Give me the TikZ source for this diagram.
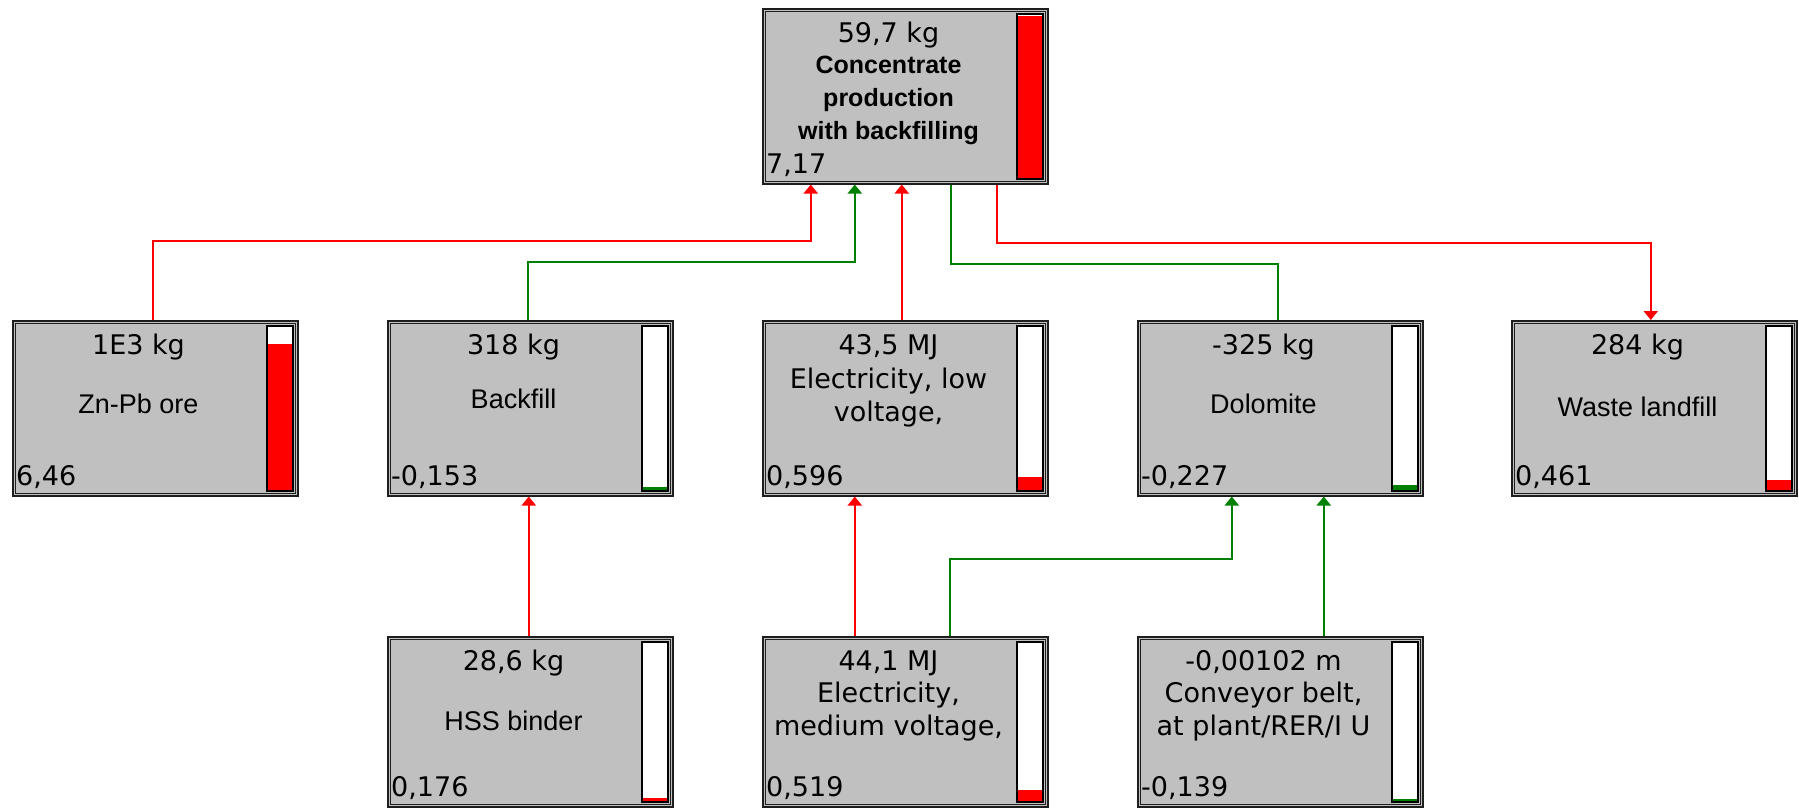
\documentclass[tikz,border=0pt]{standalone}
\usepackage{fontspec}
\setmainfont{DejaVu Sans}
\newfontfamily\libsans{Liberation Sans}
\usetikzlibrary{arrows.meta}
\definecolor{boxgray}{HTML}{C0C0C0}
\definecolor{framec}{HTML}{1E1E1E}
\definecolor{redc}{HTML}{FF0000}
\definecolor{greenc}{HTML}{008000}
\tikzset{
  pbox/.style={rectangle, draw=framec, line width=1.5pt, fill=boxgray, minimum width=285pt, inner sep=0pt},
  innerframe/.style={draw=framec, line width=1pt},
  barframe/.style={draw=black, line width=2pt},
  val/.style={inner sep=0pt, font=\fontsize{27}{33}\selectfont, text=black},
  nm/.style={inner sep=0pt, font=\libsans\fontsize{27}{33}\selectfont, text=black, anchor=base},
  nmb/.style={inner sep=0pt, font=\libsans\bfseries\fontsize{25}{33}\selectfont, text=black, anchor=base},
  redl/.style={draw=redc, line width=2pt},
  greenl/.style={draw=greenc, line width=2pt},
  arr/.style={-{Triangle[width=14pt,length=9pt]}}
}
\newcommand\procbox[8]{%
  \node[pbox, minimum height=#4pt, anchor=north west] (#1) at (#2,#3) {};
  \draw[innerframe] ([shift={(3,3)}]#1.north west) rectangle ([shift={(-3,-3)}]#1.south east);
  \draw[fill=white, draw=none] ([shift={(-32,6)}]#1.north east) rectangle ([shift={(-6,-6)}]#1.south east);
  \fill[#6] ([shift={(-32,-6)}]#1.south east) rectangle ([shift={(-6,{-6-(#4-12)*#5})}]#1.south east);
  \draw[barframe] ([shift={(-32,6)}]#1.north east) rectangle ([shift={(-6,-6)}]#1.south east);
  \node[val, anchor=base] (#1v) at ([shift={(126.5,34)}]#1.north west) {#7};
  \node[val, anchor=base west] (#1b) at ([shift={(4,-11)}]#1.south west) {#8};
}
\begin{document}
\begin{tikzpicture}[x=1pt, y=-1pt]
\useasboundingbox (0,0) rectangle (1799,807);
% boxes
\procbox{top}{762}{8}{175}{1.0}{redc}{59,7 kg}{7,17}
\procbox{zn}{12}{320}{175}{0.901}{redc}{1E3 kg}{6,46}
\procbox{bf}{387}{320}{175}{0.021}{greenc}{318 kg}{-0,153}
\procbox{ell}{762}{320}{175}{0.083}{redc}{43,5 MJ}{0,596}
\procbox{dol}{1137}{320}{175}{0.032}{greenc}{-325 kg}{-0,227}
\procbox{waste}{1511}{320}{175}{0.064}{redc}{284 kg}{0,461}
\procbox{hss}{387}{636}{170}{0.025}{redc}{28,6 kg}{0,176}
\procbox{elm}{762}{636}{170}{0.072}{redc}{44,1 MJ}{0,519}
\procbox{conv}{1137}{636}{170}{0.019}{greenc}{-0,00102 m}{-0,139}
% names
\node[nmb] (topn1) at (888.5,73) {Concentrate};
\node[nmb] (topn2) at (888.5,106) {production};
\node[nmb] (topn3) at (888.5,139) {with backfilling};
\node[nm] (znn) at (138.5,413) {Zn-Pb ore};
\node[nm] (bfn) at (513.5,408) {Backfill};
\node[val, anchor=base] (elln1) at (888.5,388) {Electricity, low};
\node[val, anchor=base] (elln2) at (888.5,421) {voltage,};
\node[nm] (doln) at (1263.5,413) {Dolomite};
\node[nm] (wasten) at (1637.5,416) {Waste landfill};
\node[nm] (hssn) at (513.5,730) {HSS binder};
\node[val, anchor=base] (elmn1) at (888.5,702) {Electricity,};
\node[val, anchor=base] (elmn2) at (888.5,735) {medium voltage,};
\node[val, anchor=base] (convn1) at (1263.5,702) {Conveyor belt,};
\node[val, anchor=base] (convn2) at (1263.5,735) {at plant/RER/I U};
% connectors
\draw[redl, arr] ([xshift=-2.5]zn.north) -- ++(0,-79) -| ([xshift=-94.5]top.south);
\draw[greenl, arr] ([xshift=-2.5]bf.north) -- ++(0,-58) -| ([xshift=-50.5]top.south);
\draw[redl, arr] ([xshift=-3.5]ell.north) -- ([xshift=-3.5]top.south);
\draw[greenl] ([xshift=45.5]top.south) -- ++(0,79) -| ([xshift=-2.5]dol.north);
\draw[redl, arr] ([xshift=91.5]top.south) -- ++(0,58) -| ([xshift=-3.5]waste.north);
\draw[redl, arr] ([xshift=-1.5]hss.north) -- ([xshift=-1.5]bf.south);
\draw[redl, arr] ([xshift=-50.5]elm.north) -- ([xshift=-50.5]ell.south);
\draw[greenl, arr] ([xshift=44.5]elm.north) -- ++(0,-77) -| ([xshift=-48.5]dol.south);
\draw[greenl, arr] ([xshift=43.5]conv.north) -- ([xshift=43.5]dol.south);
\end{tikzpicture}
\end{document}
